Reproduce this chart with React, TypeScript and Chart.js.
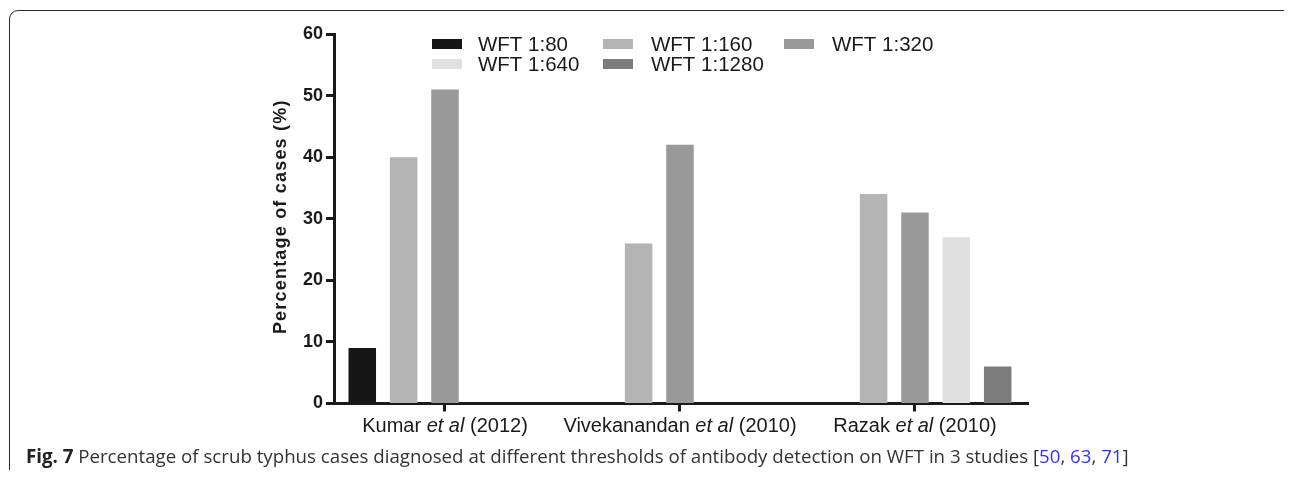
import React, { useEffect, useRef } from "react";
import { Chart, registerables } from "chart.js";

Chart.register(...registerables);

// ---- data ----
const studyAuthors = ["Kumar", "Vivekanandan", "Razak"];
const studyYears = ["2012", "2010", "2010"];
const seriesLabels = ["WFT 1:80", "WFT 1:160", "WFT 1:320", "WFT 1:640", "WFT 1:1280"];
const wft80: (number | null)[] = [9, null, null];
const wft160: (number | null)[] = [40, 26, 34];
const wft320: (number | null)[] = [51, 42, 31];
const wft640: (number | null)[] = [null, null, 27];
const wft1280: (number | null)[] = [null, null, 6];
const yTickValues = [0, 10, 20, 30, 40, 50, 60];
const yTitle = "Percentage of cases (%)";
const captionLead = "Fig. 7";
const captionText =
  " Percentage of scrub typhus cases diagnosed at different thresholds of antibody detection on WFT in 3 studies [";
const captionRefs = ["50", "63", "71"];

const seriesColors = ["#161616", "#b4b4b4", "#999999", "#e0e0e0", "#7b7b7b"];
const FONT = '"Liberation Sans", Arial, Helvetica, sans-serif';
const INK = "#1a1a1a";

const seriesValues = [wft80, wft160, wft320, wft640, wft1280];

// legend slots (canvas coords): [boxX, textX, centerY]
const legendSlots = [
  [424, 470, 36],
  [595, 643, 36],
  [776, 824, 36],
  [424, 470, 56],
  [595, 643, 56],
];

const legendPlugin = {
  id: "customLegend",
  afterDraw(chart: any) {
    const ctx = chart.ctx;
    ctx.save();
    ctx.font = `20.5px ${FONT}`;
    ctx.textBaseline = "middle";
    ctx.textAlign = "left";
    chart.data.datasets.forEach((ds: any, i: number) => {
      const slot = legendSlots[i];
      if (!slot) return;
      ctx.fillStyle = ds.backgroundColor;
      ctx.fillRect(slot[0], slot[2] - 5, 30, 10);
      ctx.fillStyle = INK;
      ctx.fillText(ds.label, slot[1], slot[2] + 1);
    });
    ctx.restore();
  },
};

const axisTextPlugin = {
  id: "axisText",
  afterDraw(chart: any) {
    const ctx = chart.ctx;
    const xs = chart.scales.x;
    const area = chart.chartArea;
    ctx.save();
    // x category labels with italic "et al"
    ctx.fillStyle = INK;
    ctx.textBaseline = "middle";
    ctx.textAlign = "left";
    const normal = `20px ${FONT}`;
    const italic = `italic 20px ${FONT}`;
    studyAuthors.forEach((a, i) => {
      const parts: [string, string][] = [
        [a + " ", normal],
        ["et al", italic],
        [" (" + studyYears[i] + ")", normal],
      ];
      let total = 0;
      parts.forEach(([t, f]) => {
        ctx.font = f;
        total += ctx.measureText(t).width;
      });
      let x = xs.getPixelForValue(i) - total / 2;
      const y = area.bottom + 23;
      parts.forEach(([t, f]) => {
        ctx.font = f;
        ctx.fillText(t, x, y);
        x += ctx.measureText(t).width;
      });
    });
    // y title
    ctx.translate(273, (area.top + area.bottom) / 2 - 2);
    ctx.rotate(-Math.PI / 2);
    ctx.font = `bold 18px ${FONT}`;
    (ctx as any).letterSpacing = "1.2px";
    ctx.textAlign = "center";
    ctx.textBaseline = "middle";
    ctx.fillText(yTitle, 0, 0);
    ctx.restore();
  },
};

export default function App() {
  const canvasRef = useRef<HTMLCanvasElement | null>(null);

  useEffect(() => {
    document.documentElement.style.overflow = "hidden";
    document.body.style.overflow = "hidden";
    const canvas = canvasRef.current;
    if (!canvas) return;
    const chart = new Chart(canvas, {
      type: "bar",
      data: {
        datasets: seriesLabels.map((label, si) => ({
          label,
          data: seriesValues[si].map((v, i) => ({ x: i, y: v })),
          backgroundColor: seriesColors[si],
          borderWidth: 0,
          categoryPercentage: 0.88,
          barPercentage: 0.665,
        })),
      } as any,
      options: {
        responsive: false,
        animation: false,
        devicePixelRatio: 1,
        layout: { padding: { left: 0, right: 264, top: 26, bottom: 4.5 } },
        plugins: {
          legend: { display: false },
          tooltip: { enabled: false },
          title: { display: false },
        },
        scales: {
          x: {
            type: "linear",
            offset: false,
            min: -0.4723,
            max: 2.481,
            afterBuildTicks: (scale: any) => {
              scale.ticks = studyAuthors.map((_, i) => ({ value: i }));
            },
            afterFit: (scale: any) => {
              scale.height = 40;
            },
            ticks: { display: false },
            grid: {
              display: true,
              drawOnChartArea: false,
              drawTicks: true,
              tickLength: 8,
              tickWidth: 3,
              tickColor: INK,
              offset: false,
            },
            border: { display: true, width: 3, color: INK },
          },
          y: {
            type: "linear",
            min: yTickValues[0],
            max: yTickValues[yTickValues.length - 1],
            afterBuildTicks: (scale: any) => {
              scale.ticks = yTickValues.map((v) => ({ value: v }));
            },
            afterFit: (scale: any) => {
              scale.width = 326;
            },
            ticks: {
              color: INK,
              padding: 3,
              font: { family: FONT, size: 18, weight: "bold" },
            },
            grid: {
              display: true,
              drawOnChartArea: false,
              drawTicks: true,
              tickLength: 8,
              tickWidth: 3,
              tickColor: INK,
            },
            border: { display: true, width: 3, color: INK },
          },
        },
      } as any,
      plugins: [legendPlugin, axisTextPlugin],
    });
    return () => chart.destroy();
  }, []);

  return (
    <div
      style={{
        position: "relative",
        width: 1284,
        height: 470,
        marginBottom: -8,
        overflow: "hidden",
      }}
    >
      <div
        style={{
          position: "absolute",
          left: 1,
          top: 2,
          width: 1285,
          height: 520,
          border: "1.5px solid #2a2a2a",
          borderRadius: 9,
          boxSizing: "border-box",
        }}
      />
      <canvas
        ref={canvasRef}
        width={1284}
        height={440}
        style={{ position: "absolute", left: 0, top: 0, display: "block" }}
      />
      <div
        style={{
          position: "absolute",
          left: 18,
          top: 437,
          whiteSpace: "nowrap",
          fontFamily: '"Open Sans", "Noto Sans", sans-serif',
          fontSize: 18.7,
          lineHeight: "22px",
          color: "#333333",
        }}
      >
        <b style={{ color: "#222" }}>{captionLead}</b>
        {captionText}
        {captionRefs.map((r, i) => (
          <React.Fragment key={r}>
            <span style={{ color: "#3333ee" }}>{r}</span>
            {i < captionRefs.length - 1 ? ", " : ""}
          </React.Fragment>
        ))}
        {"]"}
      </div>
    </div>
  );
}
